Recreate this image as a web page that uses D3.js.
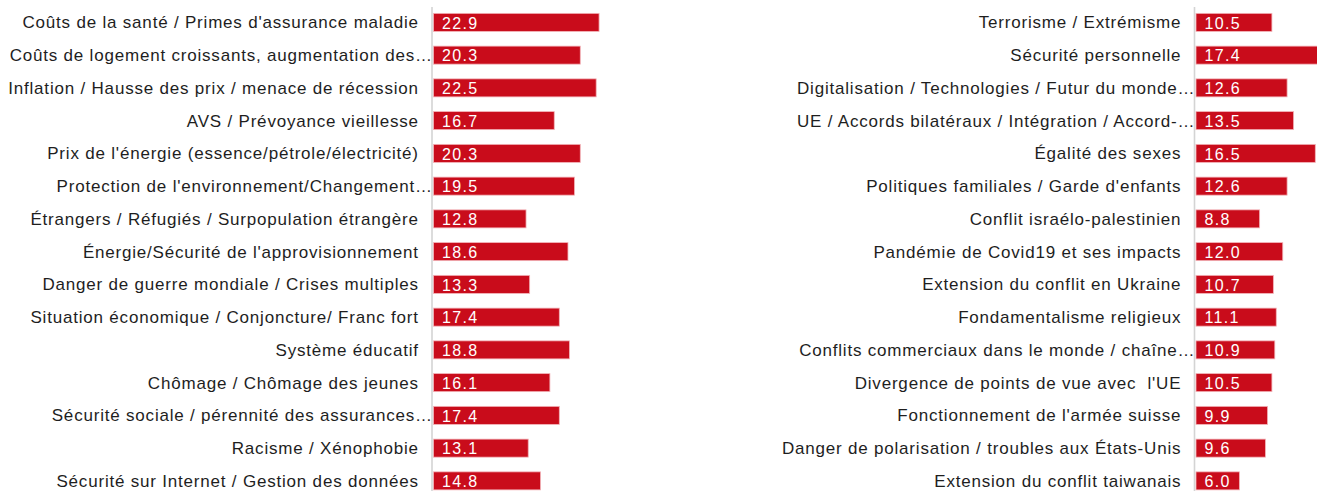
<!DOCTYPE html>
<html>
<head>
<meta charset="utf-8">
<script src="https://cdn.jsdelivr.net/npm/d3@7"></script>
<style>
  html, body { margin: 0; padding: 0; background: #fff; }
  svg { display: block; }
  text { font-family: "Liberation Sans", Arial, Helvetica, sans-serif; white-space: pre; }
</style>
</head>
<body>
<svg id="chart" width="1317" height="491"></svg>
<script>
const leftCategories = [
  "Coûts de la santé / Primes d'assurance maladie",
  "Coûts de logement croissants, augmentation des…",
  "Inflation / Hausse des prix / menace de récession",
  "AVS / Prévoyance vieillesse",
  "Prix de l'énergie (essence/pétrole/électricité)",
  "Protection de l'environnement/Changement…",
  "Étrangers / Réfugiés / Surpopulation étrangère",
  "Énergie/Sécurité de l'approvisionnement",
  "Danger de guerre mondiale / Crises multiples",
  "Situation économique / Conjoncture/ Franc fort",
  "Système éducatif",
  "Chômage / Chômage des jeunes",
  "Sécurité sociale / pérennité des assurances…",
  "Racisme / Xénophobie",
  "Sécurité sur Internet / Gestion des données"
];
const leftValues = [22.9, 20.3, 22.5, 16.7, 20.3, 19.5, 12.8, 18.6, 13.3, 17.4, 18.8, 16.1, 17.4, 13.1, 14.8];

const rightCategories = [
  "Terrorisme / Extrémisme",
  "Sécurité personnelle",
  "Digitalisation / Technologies / Futur du monde…",
  "UE / Accords bilatéraux / Intégration / Accord-…",
  "Égalité des sexes",
  "Politiques familiales / Garde d'enfants",
  "Conflit israélo-palestinien",
  "Pandémie de Covid19 et ses impacts",
  "Extension du conflit en Ukraine",
  "Fondamentalisme religieux",
  "Conflits commerciaux dans le monde / chaîne…",
  "Divergence de points de vue avec  l'UE",
  "Fonctionnement de l'armée suisse",
  "Danger de polarisation / troubles aux États-Unis",
  "Extension du conflit taiwanais"
];
const rightValues = [10.5, 17.4, 12.6, 13.5, 16.5, 12.6, 8.8, 12.0, 10.7, 11.1, 10.9, 10.5, 9.9, 9.6, 6.0];

const W = 1317, H = 491;
const svg = d3.select("#chart");
const BAR = "#c90c1b";
const UNIT = 7.23;

function panel(cats, vals, axisX) {
  const data = cats.map((c, i) => ({ c, v: vals[i], i }));
  const y = d3.scaleBand().domain(d3.range(cats.length))
    .range([6, 6 + 15 * 32.75]).paddingInner(0.45).paddingOuter(0.225);
  const x = d3.scaleLinear().domain([0, 25]).range([axisX + 1.5, axisX + 1.5 + 25 * UNIT]);
  const g = svg.append("g");

  g.append("line")
    .attr("x1", axisX).attr("x2", axisX)
    .attr("y1", 7).attr("y2", H)
    .attr("stroke", "#d4d4d4").attr("stroke-width", 1.6);

  g.selectAll("rect.bar").data(data).join("rect")
    .attr("class", "bar")
    .attr("x", x(0))
    .attr("y", d => y(d.i))
    .attr("width", d => x(d.v) - x(0))
    .attr("height", y.bandwidth())
    .attr("fill", BAR)
    .attr("stroke", "#f2b3b8").attr("stroke-width", 0.8);

  g.selectAll("text.val").data(data).join("text")
    .attr("class", "val")
    .attr("x", x(0) + 8.5)
    .attr("y", d => y(d.i) + y.bandwidth() / 2 + 6.2)
    .attr("fill", "#fff")
    .attr("font-size", 16)
    .attr("letter-spacing", 1.3)
    .text(d => d.v.toFixed(1));

  g.selectAll("text.lab").data(data).join("text")
    .attr("class", "lab")
    .attr("x", d => d.c.endsWith("…") ? axisX + 0.8 : axisX - 13.2)
    .attr("y", d => y(d.i) + y.bandwidth() / 2 + 6.0)
    .attr("text-anchor", "end")
    .attr("fill", "#1e1e1e")
    .attr("font-size", 17)
    .attr("letter-spacing", 0.8)
    .text(d => d.c);
}

panel(leftCategories, leftValues, 432);
panel(rightCategories, rightValues, 1194.5);
</script>
</body>
</html>
